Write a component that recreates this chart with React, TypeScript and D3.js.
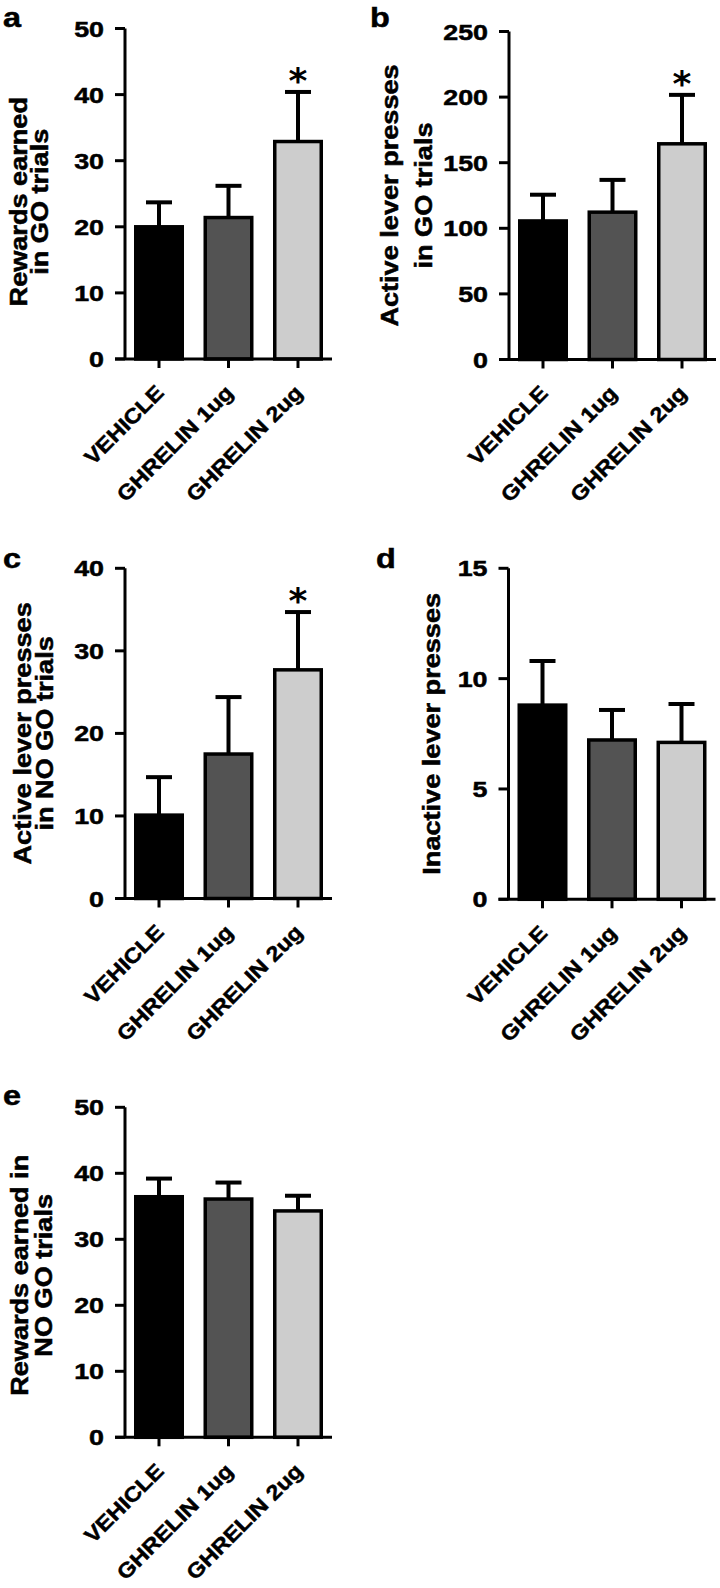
import React from "react";
import * as d3 from "d3";

const categories = ["VEHICLE", "GHRELIN 1ug", "GHRELIN 2ug"];

// Panel a: Rewards earned in GO trials
const rewardsGoMean = [20.0, 21.4, 32.9];
const rewardsGoSem = [3.7, 4.8, 7.5];
const rewardsGoSig = [false, false, true];
const rewardsGoTicks = [0, 10, 20, 30, 40, 50];

// Panel b: Active lever presses in GO trials
const activeGoMean = [105.6, 112.3, 164.4];
const activeGoSem = [20.0, 24.6, 37.3];
const activeGoSig = [false, false, true];
const activeGoTicks = [0, 50, 100, 150, 200, 250];

// Panel c: Active lever presses in NO GO trials
const activeNoGoMean = [10.1, 17.5, 27.7];
const activeNoGoSem = [4.6, 6.9, 7.0];
const activeNoGoSig = [false, false, true];
const activeNoGoTicks = [0, 10, 20, 30, 40];

// Panel d: Inactive lever presses
const inactiveMean = [8.8, 7.22, 7.11];
const inactiveSem = [2.0, 1.36, 1.74];
const inactiveSig = [false, false, false];
const inactiveTicks = [0, 5, 10, 15];

// Panel e: Rewards earned in NO GO trials
const rewardsNoGoMean = [36.45, 36.1, 34.3];
const rewardsNoGoSem = [2.75, 2.5, 2.3];
const rewardsNoGoSig = [false, false, false];
const rewardsNoGoTicks = [0, 10, 20, 30, 40, 50];

const fills = ["#000000", "#535353", "#cdcdcd"];
const FONT = "'Liberation Sans', Arial, Helvetica, sans-serif";

type PanelProps = {
  letter: string;
  titleLines: string[];
  means: number[];
  sems: number[];
  sig: boolean[];
  ticks: number[];
  axisX: number;
  topY: number;
  zeroY: number;
  titleX: number[];
  titleCenterOffset: number;
  letterX: number;
  letterY: number;
};

const heavy = { stroke: "#000", strokeWidth: 0.5 };

function Panel(p: PanelProps) {
  const maxV = p.ticks[p.ticks.length - 1];
  const y = d3.scaleLinear().domain([0, maxV]).range([p.zeroY, p.topY]);
  const x = d3
    .scaleBand<string>()
    .domain(categories)
    .range([p.axisX, p.axisX + 207])
    .paddingInner(0.331)
    .paddingOuter(0.1547);
  const bw = x.bandwidth();
  const titleCenter = (p.topY + p.zeroY) / 2 + p.titleCenterOffset;
  return (
    <g>
      <text
        transform={`translate(${p.letterX},${p.letterY}) scale(1.2,1)`}
        fontFamily={FONT}
        fontWeight="bold"
        fontSize={27}
        {...heavy}
      >
        {p.letter}
      </text>
      {p.titleLines.map((t, i) => (
        <text
          key={t}
          transform={`translate(${p.titleX[i]},${titleCenter}) rotate(-90) scale(1.13,1)`}
          textAnchor="middle"
          fontFamily={FONT}
          fontWeight="bold"
          fontSize={24}
          {...heavy}
        >
          {t}
        </text>
      ))}
      {/* error bars */}
      {categories.map((c, i) => {
        const cx = x(c)! + bw / 2;
        const yt = y(p.means[i] + p.sems[i]);
        return (
          <g key={"e" + c}>
            <line x1={cx} x2={cx} y1={y(p.means[i])} y2={yt} stroke="#000" strokeWidth={4} />
            <line x1={cx - 13} x2={cx + 13} y1={yt} y2={yt} stroke="#000" strokeWidth={4} />
            {p.sig[i] && (
              <text
                x={cx}
                y={yt + 1}
                textAnchor="middle"
                fontFamily="'DejaVu Sans', sans-serif"
                fontWeight="bold"
                fontSize={36}
              >
                *
              </text>
            )}
          </g>
        );
      })}
      {/* bars */}
      {categories.map((c, i) => (
        <rect
          key={"b" + c}
          x={x(c)!}
          width={bw}
          y={y(p.means[i])}
          height={p.zeroY - y(p.means[i])}
          fill={fills[i]}
          stroke="#000"
          strokeWidth={3.5}
        />
      ))}
      {/* y axis */}
      <line x1={p.axisX} x2={p.axisX} y1={p.topY} y2={p.zeroY} stroke="#000" strokeWidth={3} />
      {p.ticks.map((t) => (
        <g key={"t" + t}>
          <line x1={p.axisX - 10} x2={p.axisX} y1={y(t)} y2={y(t)} stroke="#000" strokeWidth={3} />
          <text
            transform={`translate(${p.axisX - 21},${y(t) + 8}) scale(1.22,1)`}
            textAnchor="end"
            fontFamily={FONT}
            fontWeight="bold"
            fontSize={22}
            {...heavy}
          >
            {t}
          </text>
        </g>
      ))}
      {/* x axis */}
      <line
        x1={p.axisX - 10}
        x2={p.axisX + 207}
        y1={p.zeroY}
        y2={p.zeroY}
        stroke="#000"
        strokeWidth={3}
      />
      {categories.map((c) => {
        const cx = x(c)! + bw / 2;
        return (
          <g key={"x" + c}>
            <line x1={cx} x2={cx} y1={p.zeroY} y2={p.zeroY + 9} stroke="#000" strokeWidth={3} />
            <text
              transform={`translate(${cx + 6},${p.zeroY + 35}) rotate(-45) scale(1.12,1)`}
              textAnchor="end"
              fontFamily={FONT}
              fontWeight="bold"
              fontSize={21}
              {...heavy}
            >
              {c}
            </text>
          </g>
        );
      })}
    </g>
  );
}

export default function App() {
  return (
    <svg
      width={720}
      height={1588}
      viewBox="0 0 720 1588"
      style={{ position: "absolute", left: 0, top: 0, background: "#fff" }}
    >
      <rect x={0} y={0} width={720} height={1588} fill="#fff" />
      <Panel
        letter="a"
        titleLines={["Rewards earned", "in GO trials"]}
        means={rewardsGoMean}
        sems={rewardsGoSem}
        sig={rewardsGoSig}
        ticks={rewardsGoTicks}
        axisX={125}
        topY={28.5}
        zeroY={359}
        titleX={[27, 48]}
        titleCenterOffset={8}
        letterX={3}
        letterY={27}
      />
      <Panel
        letter="b"
        titleLines={["Active lever presses", "in GO trials"]}
        means={activeGoMean}
        sems={activeGoSem}
        sig={activeGoSig}
        ticks={activeGoTicks}
        axisX={509}
        topY={31.5}
        zeroY={359.5}
        titleX={[398, 432]}
        titleCenterOffset={0}
        letterX={370}
        letterY={27}
      />
      <Panel
        letter="c"
        titleLines={["Active lever presses", "in NO GO trials"]}
        means={activeNoGoMean}
        sems={activeNoGoSem}
        sig={activeNoGoSig}
        ticks={activeNoGoTicks}
        axisX={125}
        topY={568.3}
        zeroY={898.5}
        titleX={[31, 53]}
        titleCenterOffset={0}
        letterX={3}
        letterY={568}
      />
      <Panel
        letter="d"
        titleLines={["Inactive lever presses"]}
        means={inactiveMean}
        sems={inactiveSem}
        sig={inactiveSig}
        ticks={inactiveTicks}
        axisX={508.5}
        topY={568.3}
        zeroY={899.3}
        titleX={[440]}
        titleCenterOffset={0}
        letterX={376}
        letterY={568}
      />
      <Panel
        letter="e"
        titleLines={["Rewards earned in", "NO GO trials"]}
        means={rewardsNoGoMean}
        sems={rewardsNoGoSem}
        sig={rewardsNoGoSig}
        ticks={rewardsNoGoTicks}
        axisX={125}
        topY={1107.3}
        zeroY={1437.3}
        titleX={[28, 52]}
        titleCenterOffset={3}
        letterX={3}
        letterY={1105}
      />
    </svg>
  );
}
